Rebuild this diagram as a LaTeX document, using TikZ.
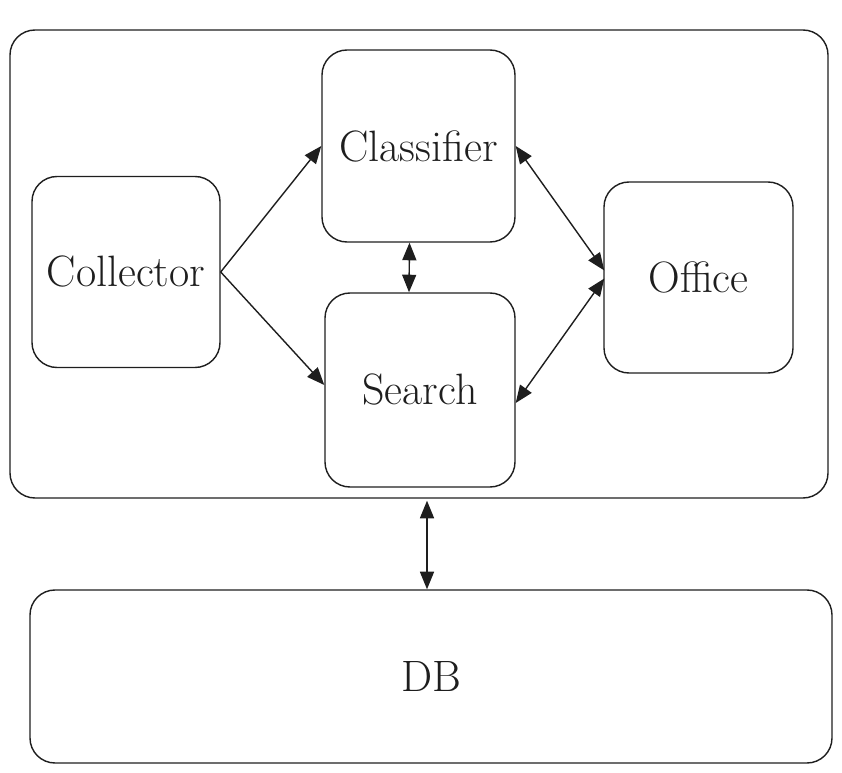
\documentclass[tikz,border=0pt]{standalone}
\usetikzlibrary{calc,arrows.meta}
\definecolor{ink}{HTML}{1E1E1E}

\tikzset{
  block/.style={draw=ink, line width=0.8pt, rounded corners=0.5cm, text=ink,
    font=\fontsize{25}{30}\selectfont, inner sep=0pt},
  link/.style={draw=ink, line width=0.8pt, {Triangle[length=10pt,width=8pt]}-{Triangle[length=10pt,width=8pt]}},
  feed/.style={draw=ink, line width=0.8pt, -{Triangle[length=10pt,width=8pt]}}
}

\begin{document}
\begin{tikzpicture}[x=0.02cm, y=-0.02cm]
	%%%%% START %%%%%
	\useasboundingbox (0,0) rectangle (842,773);
	
	\node[block, minimum width=818*0.02cm, minimum height=468*0.02cm] (Platform) at (419,264) {};
	
	\node[block, minimum width=188*0.02cm, minimum height=191*0.02cm] (Collector) at (126,272) {Collector};
	\node[block, minimum width=193*0.02cm, minimum height=192*0.02cm] (Classifier) at (418.5,146) {Classifier};
	\node[block, minimum width=190*0.02cm, minimum height=194*0.02cm] (Search) at (420,390) {Search};
	\node[block, minimum width=189*0.02cm, minimum height=191*0.02cm] (Office) at (698.5,277.5) {Office};
	
	\node[block, minimum width=802*0.02cm, minimum height=173*0.02cm] (DB) at (431,676.5) {DB};
	
	\coordinate (ClsLow) at ($(Classifier.south)+(-9,0)$);
	\coordinate (SrcTop) at ($(Search.north)+(-11,0)$);
	\coordinate (OffUp) at ($(Office.west)+(1,-7)$);
	\coordinate (OffDown) at ($(Office.west)+(1,1)$);
	\coordinate (SrcRight) at ($(Search.east)+(0,13)$);
	\coordinate (SrcLeft) at ($(Search.west)+(0,-5)$);
	\coordinate (PlatLow) at ($(Platform.south)+(8,2)$);
	\coordinate (DBTop) at ($(DB.north)+(-4,0)$);
	
	\draw[feed] (Collector.east) -- (Classifier.west);
	\draw[feed] (Collector.east) -- (SrcLeft);
	\draw[link] (ClsLow) -- (SrcTop);
	\draw[link] (Classifier.east) -- (OffUp);
	\draw[link] (SrcRight) -- (OffDown);
	\draw[link] (PlatLow) -- (DBTop);
	%%%%% END %%%%%
\end{tikzpicture}
\end{document}
